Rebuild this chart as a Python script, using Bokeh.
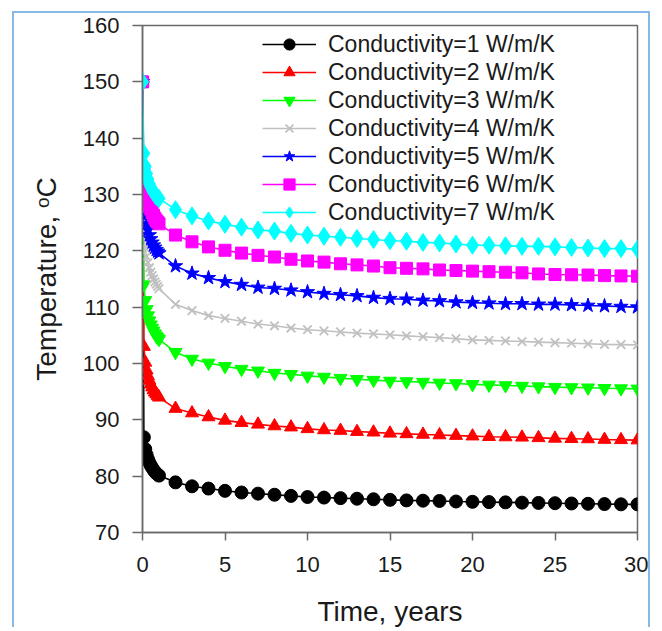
from bokeh.plotting import figure
from bokeh.models import Range1d, FixedTicker, Legend, LegendItem
from bokeh.embed import file_html
from bokeh.resources import INLINE

time_years = [0, 0.083, 0.167, 0.25, 0.333, 0.417, 0.5, 0.583, 0.667, 0.75, 0.833, 0.917, 1.0,
              2, 3, 4, 5, 6, 7, 8, 9, 10, 11, 12, 13, 14, 15, 16, 17, 18, 19, 20,
              21, 22, 23, 24, 25, 26, 27, 28, 29, 30]

temp_k1 = [150, 86.9, 84.8, 83.8, 83.0, 82.4, 81.9, 81.5, 81.1, 80.8, 80.5, 80.3, 80.1,
           78.9, 78.2, 77.8, 77.4, 77.1, 76.9, 76.7, 76.5, 76.3, 76.2, 76.1, 76.0, 75.9, 75.8,
           75.7, 75.65, 75.6, 75.5, 75.45, 75.4, 75.35, 75.3, 75.25, 75.2, 75.15, 75.1, 75.05, 75.0, 75.0]
temp_k2 = [150, 103.0, 100.2, 98.8, 97.8, 97.0, 96.3, 95.8, 95.3, 94.9, 94.6, 94.3, 94.0,
           92.0, 91.2, 90.5, 89.9, 89.5, 89.2, 88.9, 88.7, 88.4, 88.2, 88.1, 87.9, 87.8, 87.6,
           87.5, 87.4, 87.3, 87.2, 87.1, 87.0, 86.95, 86.9, 86.8, 86.7, 86.65, 86.6, 86.5, 86.45, 86.4]
temp_k3 = [150, 114.0, 111.2, 109.6, 108.5, 107.6, 106.9, 106.3, 105.8, 105.3, 104.9, 104.6, 104.3,
           102.0, 100.8, 100.1, 99.5, 99.0, 98.7, 98.3, 98.1, 97.8, 97.6, 97.4, 97.2, 97.05, 96.9,
           96.8, 96.7, 96.55, 96.45, 96.3, 96.2, 96.1, 96.0, 95.9, 95.8, 95.75, 95.7, 95.6, 95.55, 95.5]
temp_k4 = [150, 123.0, 120.5, 119.0, 117.9, 117.0, 116.2, 115.6, 115.0, 114.5, 114.1, 113.7, 113.3,
           110.5, 109.4, 108.5, 108.0, 107.5, 107.0, 106.7, 106.3, 106.0, 105.8, 105.6, 105.4, 105.25, 105.1,
           104.9, 104.75, 104.6, 104.4, 104.2, 104.1, 104.0, 103.9, 103.8, 103.7, 103.6, 103.5, 103.4, 103.35, 103.3]
temp_k5 = [150, 128.7, 126.2, 124.8, 123.7, 122.8, 122.1, 121.5, 121.0, 120.6, 120.2, 119.9, 119.6,
           117.3, 116.0, 115.2, 114.5, 114.0, 113.5, 113.3, 113.0, 112.7, 112.4, 112.2, 112.0, 111.7, 111.5,
           111.4, 111.2, 111.1, 110.9, 110.8, 110.7, 110.6, 110.6, 110.5, 110.5, 110.4, 110.3, 110.2, 110.1, 110.0]
temp_k6 = [150, 133.7, 131.5, 130.1, 129.0, 128.1, 127.4, 126.8, 126.3, 125.8, 125.4, 125.1, 124.8,
           122.8, 121.6, 120.7, 120.1, 119.6, 119.2, 118.9, 118.5, 118.2, 118.0, 117.7, 117.5, 117.3, 117.0,
           116.9, 116.8, 116.6, 116.5, 116.4, 116.3, 116.2, 116.1, 115.9, 115.8, 115.75, 115.7, 115.6, 115.55, 115.5]
temp_k7 = [150, 137.3, 135.0, 133.7, 132.7, 131.9, 131.3, 130.8, 130.4, 130.0, 129.7, 129.5, 129.3,
           127.3, 126.2, 125.3, 124.7, 124.2, 123.7, 123.5, 123.1, 122.8, 122.6, 122.4, 122.2, 122.0, 121.8,
           121.7, 121.5, 121.4, 121.2, 121.0, 121.0, 120.9, 120.8, 120.8, 120.7, 120.6, 120.5, 120.4, 120.4, 120.3]

series_labels = ["Conductivity=1 W/m/K", "Conductivity=2 W/m/K", "Conductivity=3 W/m/K",
                 "Conductivity=4 W/m/K", "Conductivity=5 W/m/K", "Conductivity=6 W/m/K",
                 "Conductivity=7 W/m/K"]
series_values = [temp_k1, temp_k2, temp_k3, temp_k4, temp_k5, temp_k6, temp_k7]
series_colors = ["#000000", "#ff0000", "#00ff00", "#c0c0c0", "#0000ff", "#ff00ff", "#00ffff"]
series_markers = ["circle", "triangle", "inverted_triangle", "x", "star", "square", "diamond"]
marker_sizes = [13, 13, 13, 12, 15, 12, 18]

x_ticks = [0, 5, 10, 15, 20, 25, 30]
y_ticks = [70, 80, 90, 100, 110, 120, 130, 140, 150, 160]

FONT = "Liberation Sans"
AX = "#6a6a6a"

p = figure(width=638, height=616, output_backend="svg", toolbar_location=None,
           x_range=Range1d(0, 30), y_range=Range1d(70, 160),
           min_border_left=128, min_border_right=15, min_border_top=12, min_border_bottom=97)
p.styles = {"margin-left": "12px", "margin-top": "11px",
            "border-left": "2px solid #86b9e6", "border-top": "2px solid #86b9e6",
            "border-right": "2px solid #86b9e6"}
p.background_fill_color = "white"
p.border_fill_color = "white"
p.xgrid.visible = False
p.ygrid.visible = False
p.outline_line_color = AX
p.outline_line_width = 1.5

p.xaxis.ticker = FixedTicker(ticks=x_ticks)
p.yaxis.ticker = FixedTicker(ticks=y_ticks)
for ax in (p.xaxis[0], p.yaxis[0]):
    ax.axis_line_color = AX
    ax.axis_line_width = 1.5
    ax.major_tick_line_color = AX
    ax.major_tick_line_width = 1.5
    ax.major_tick_in = 0
    ax.minor_tick_line_color = None
    ax.major_label_text_font = FONT
    ax.major_label_text_font_size = "22px"
    ax.major_label_text_color = "#1a1a1a"
    ax.axis_label_text_font = FONT
    ax.axis_label_text_font_size = "28px"
    ax.axis_label_text_font_style = "normal"
    ax.axis_label_text_color = "#1a1a1a"
p.xaxis.major_tick_out = 8
p.yaxis.major_tick_out = 10
p.xaxis.major_label_standoff = 16
p.yaxis.major_label_standoff = 13
p.xaxis.axis_label = "Time, years"
p.yaxis.axis_label = "Temperature, \u1d52C"
p.xaxis.axis_label_standoff = 21
p.yaxis.axis_label_standoff = 18

items = []
for lab, vals, col, mk, sz in zip(series_labels, series_values, series_colors, series_markers, marker_sizes):
    r1 = p.line(time_years, vals, line_color=col, line_width=1.6)
    r2 = p.scatter(time_years, vals, marker=mk, size=sz, fill_color=col, line_color=col,
                   line_width=1.8 if mk == "x" else 1)
    items.append(LegendItem(label=lab, renderers=[r1, r2]))

legend = Legend(items=items, location=(120, 306), padding=0, margin=0, spacing=0,
                glyph_height=28, glyph_width=54, label_height=28, label_standoff=12,
                label_text_font=FONT, label_text_font_size="23px", label_text_color="#1a1a1a",
                border_line_alpha=0, background_fill_alpha=0)
p.add_layout(legend)

open("out.html", "w").write(file_html(p, INLINE))
